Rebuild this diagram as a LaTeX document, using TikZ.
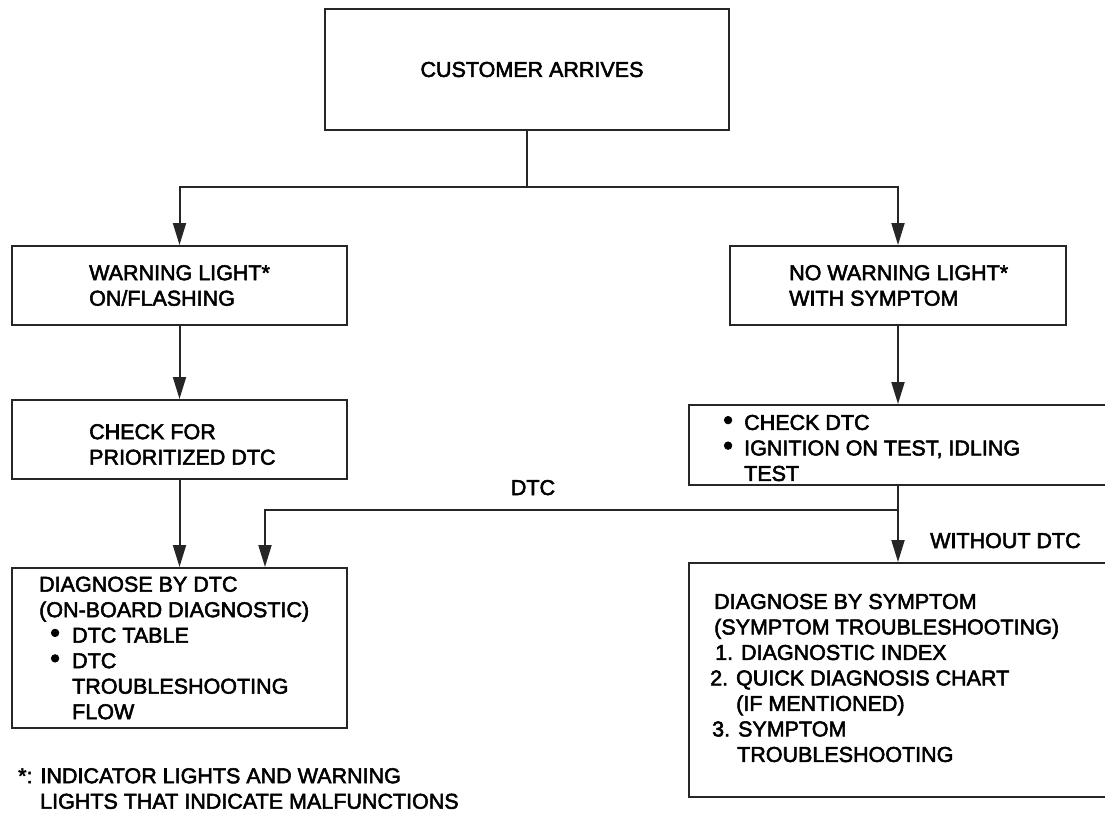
\documentclass[tikz,border=0pt]{standalone}
\usepackage{fontspec}
\setmainfont{Liberation Sans}[RawFeature={embolden=2.5}]
\usetikzlibrary{arrows.meta}

\newcommand{\bul}{\raisebox{0.5pt}{\scalebox{1.3}{\textbullet}}}

\begin{document}
\begin{tikzpicture}[
        x=1pt, y=-1pt,
        every node/.style={font=\fontsize{21.5}{25.5}\selectfont},
        box/.style={draw=black!85, line width=2pt, inner sep=0pt},
        txt/.style={anchor=west, align=left, inner sep=0pt},
        flow/.style={draw=black!85, line width=2pt},
        arr/.style={flow, -{Triangle[length=22pt, width=13pt]}},
        lbl/.style={inner sep=0pt}
    ]
        \useasboundingbox (0,0) rectangle (1105,812);

        \node[box, minimum width=404pt, minimum height=121pt] (arrive) at (527,69.5) {};
        \node[box, minimum width=335pt, minimum height=79pt] (warn) at (179.5,285.5) {};
        \node[box, minimum width=336pt, minimum height=79pt] (nowarn) at (898,285.5) {};
        \node[box, minimum width=335pt, minimum height=79pt] (prio) at (179.5,439.5) {};
        \node[box, minimum width=421pt, minimum height=80pt] (check) at (899.5,445) {};
        \node[box, minimum width=335pt, minimum height=160pt] (dtcdiag) at (179.5,648) {};
        \node[box, minimum width=421pt, minimum height=234pt] (symp) at (899.5,680) {};

        \node[lbl] (arrivetxt) at ([xshift=5pt]arrive) {CUSTOMER ARRIVES};
        \node[txt] (warntxt) at ([xshift=78pt]warn.west) {WARNING LIGHT*\\ON/FLASHING};
        \node[txt] (nowarntxt) at ([xshift=60pt]nowarn.west) {NO WARNING LIGHT*\\WITH SYMPTOM};
        \node[txt] (priotxt) at ([xshift=78pt, yshift=-5pt]prio.west) {CHECK FOR\\PRIORITIZED DTC};
        \node[txt] (checktxt) at ([xshift=35pt, yshift=-3pt]check.west) {%
            \makebox[21pt][l]{\bul}CHECK DTC\\
            \makebox[21pt][l]{\bul}IGNITION ON TEST, IDLING\\
            \hspace*{21pt}TEST};
        \node[txt] (dtcdiagtxt) at ([xshift=28pt]dtcdiag.west) {%
            DIAGNOSE BY DTC\\
            (ON-BOARD DIAGNOSTIC)\\
            \hspace*{11pt}\makebox[22pt][l]{\bul}DTC TABLE\\
            \hspace*{11pt}\makebox[22pt][l]{\bul}DTC\\
            \hspace*{33pt}TROUBLESHOOTING\\
            \hspace*{33pt}FLOW};
        \node[txt] (symptxt) at ([xshift=22pt, yshift=2pt]symp.west) {%
            \hspace*{4pt}DIAGNOSE BY SYMPTOM\\
            \hspace*{4pt}(SYMPTOM TROUBLESHOOTING)\\
            \hspace*{5pt}1. DIAGNOSTIC INDEX\\
            2. QUICK DIAGNOSIS CHART\\
            \hspace*{26pt}(IF MENTIONED)\\
            \hspace*{2pt}3. SYMPTOM\\
            \hspace*{27pt}TROUBLESHOOTING};

        \coordinate (split) at (527,187);
        \draw[flow] (arrive.south) -- (split);
        \draw[arr] (split) -| (warn.north);
        \draw[arr] (split) -| (nowarn.north);
        \draw[arr] (warn.south) -- (prio.north);
        \draw[arr] (prio.south) -- (dtcdiag.north);
        \draw[arr] (nowarn.south) -- (nowarn.south |- check.north);

        \coordinate (fork) at (898,510);
        \draw[flow] (check.south -| fork) -- (fork);
        \draw[arr] (fork) -- (fork |- symp.north);
        \draw[arr] (fork) -| ([xshift=85.5pt]dtcdiag.north);

        \node[lbl, anchor=base] (dtclbl) at (533,495) {DTC};
        \node[lbl, anchor=base west] (nodtclbl) at (930,548) {WITHOUT DTC};
        \node[txt, anchor=north west] (note) at (18,768) {*: INDICATOR LIGHTS AND WARNING\\
            \hspace*{22pt}LIGHTS THAT INDICATE MALFUNCTIONS};
    \end{tikzpicture}
\end{document}
